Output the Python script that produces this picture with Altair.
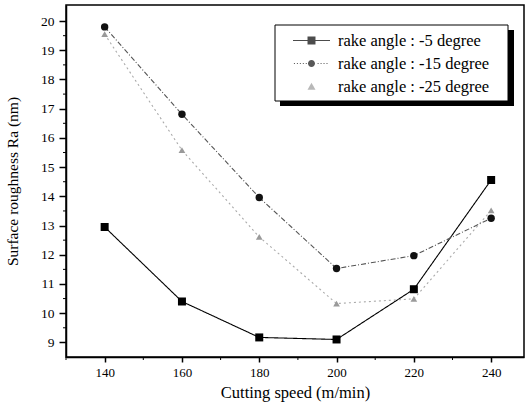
import altair as alt
import pandas as pd

# ---- data ----
speed = [140, 160, 180, 200, 220, 240]
ra_m5 = [12.95, 10.40, 9.17, 9.10, 10.82, 14.56]
ra_m15 = [19.80, 16.81, 13.96, 11.53, 11.97, 13.25]
ra_m25 = [19.55, 15.58, 12.61, 10.33, 10.49, 13.52]
labels = ["rake angle : -5 degree", "rake angle : -15 degree", "rake angle : -25 degree"]
x_major = [140, 160, 180, 200, 220, 240]
x_minor = [130, 150, 170, 190, 210, 230]
y_major = list(range(9, 21))
y_minor = [9.5 + i for i in range(11)]

rows = []
for lab, vals in zip(labels, [ra_m5, ra_m15, ra_m25]):
    for s, v in zip(speed, vals):
        rows.append({"speed": s, "ra": v, "label": lab})
df = pd.DataFrame(rows)

SERIF = "Liberation Serif"
W, H = 458, 352
xs = alt.Scale(domain=[130, 248.5], nice=False, zero=False)
ys = alt.Scale(domain=[8.5, 20.55], nice=False, zero=False)

xaxis = alt.Axis(values=x_major, tickSize=5, tickWidth=1.5, domainWidth=1.5,
                 domainColor="black", tickColor="black", grid=False,
                 labelFont=SERIF, labelFontSize=13, labelColor="black", labelPadding=4,
                 title="Cutting speed (m/min)", titleFont=SERIF, titleFontSize=16.5,
                 titleFontWeight="normal", titleColor="black", titlePadding=5, format="d")
yaxis = alt.Axis(values=y_major, tickSize=7, tickWidth=1.5, domainWidth=1.5,
                 domainColor="black", tickColor="black", grid=False,
                 labelFont=SERIF, labelFontSize=13.5, labelColor="black", labelPadding=5,
                 title="Surface roughness Ra (nm)", titleFont=SERIF, titleFontSize=15.5,
                 titleFontWeight="normal", titleColor="black", titlePadding=20, format="d")


def X(field):
    return alt.X(field, scale=xs, axis=xaxis)


def Y(field):
    return alt.Y(field, scale=ys, axis=yaxis)


styles = {
    labels[0]: dict(color="black", dash=[1, 0], pcolor="black", shape="square", size=64),
    labels[1]: dict(color="#555555", dash=[5, 2, 1, 2], pcolor="#111111", shape="circle", size=55),
    labels[2]: dict(color="#aaaaaa", dash=[2, 3], pcolor="#9a9a9a", shape="triangle-up", size=45),
}

base = alt.Chart(df)
layers = []
for lab in labels:
    st = styles[lab]
    sub = base.transform_filter(alt.datum.label == lab)
    layers.append(sub.mark_line(color=st["color"], strokeDash=st["dash"], strokeWidth=1.1)
                  .encode(x=X("speed:Q"), y=Y("ra:Q")))
    layers.append(sub.mark_point(shape=st["shape"], filled=True, opacity=1,
                                 color=st["pcolor"], size=st["size"])
                  .encode(x=X("speed:Q"), y=Y("ra:Q")))

# minor ticks
xminor = alt.Chart(pd.DataFrame({"v": x_minor})).mark_rule(color="black", strokeWidth=1).encode(
    x=X("v:Q"), y=alt.value(H), y2=alt.value(H + 3))
yminor = alt.Chart(pd.DataFrame({"v": y_minor})).mark_rule(color="black", strokeWidth=1).encode(
    y=Y("v:Q"), x=alt.value(0), x2=alt.value(-3))
layers += [xminor, yminor]

# legend frame with drop shadow
one = pd.DataFrame({"a": [0]})
shadow = alt.Chart(one).mark_rect(color="black").encode(
    x=alt.value(214), x2=alt.value(448), y=alt.value(25), y2=alt.value(101))
frame = alt.Chart(one).mark_rect(fill="white", stroke="black", strokeWidth=1).encode(
    x=alt.value(209), x2=alt.value(442), y=alt.value(20), y2=alt.value(96))
layers += [shadow, frame]

# legend symbols as custom paths (line + marker), unit box -1..1
def rect(x0, x1, h):
    return f"M{x0:.3f},{-h:.3f}H{x1:.3f}V{h:.3f}H{x0:.3f}Z"

p5 = rect(-1, 1, 0.03) + rect(-0.216, 0.216, 0.216)
dots = ""
x = -0.95
while x < 0.95:
    if abs(x) > 0.26:
        dots += rect(x, x + 0.055, 0.027)
    x += 0.16
p15 = dots + "M0.19,0A0.19,0.19 0 1,1 -0.19,0A0.19,0.19 0 1,1 0.19,0Z"
p25 = "M0,-0.2L0.216,0.18L-0.216,0.18Z"

leg = alt.Legend(title=None, orient="none", legendX=209, legendY=18, padding=7,
                 symbolSize=1369, symbolStrokeWidth=0, symbolOffset=11,
                 clipHeight=21, labelOffset=8, labelFont=SERIF, labelFontSize=16.5,
                 labelColor="black", labelLimit=300)
legend_layer = alt.Chart(df).transform_filter("false").mark_point(filled=True, size=1369).encode(
    x=X("speed:Q"),
    y=Y("ra:Q"),
    color=alt.Color("label:N", scale=alt.Scale(domain=labels, range=["black", "#111111", "#9a9a9a"]), legend=leg),
    shape=alt.Shape("label:N", scale=alt.Scale(domain=labels, range=[p5, p15, p25]), legend=leg),
)
layers.append(legend_layer)

chart = alt.layer(*layers).properties(
    width=W, height=H,
    autosize=alt.AutoSizeParams(type="none"),
    padding={"left": 66, "top": 5, "right": 1, "bottom": 55},
    background="white",
).configure_view(stroke="black", strokeWidth=1.5)

chart.save("out.html", embed_options={"renderer": "svg", "actions": False})
